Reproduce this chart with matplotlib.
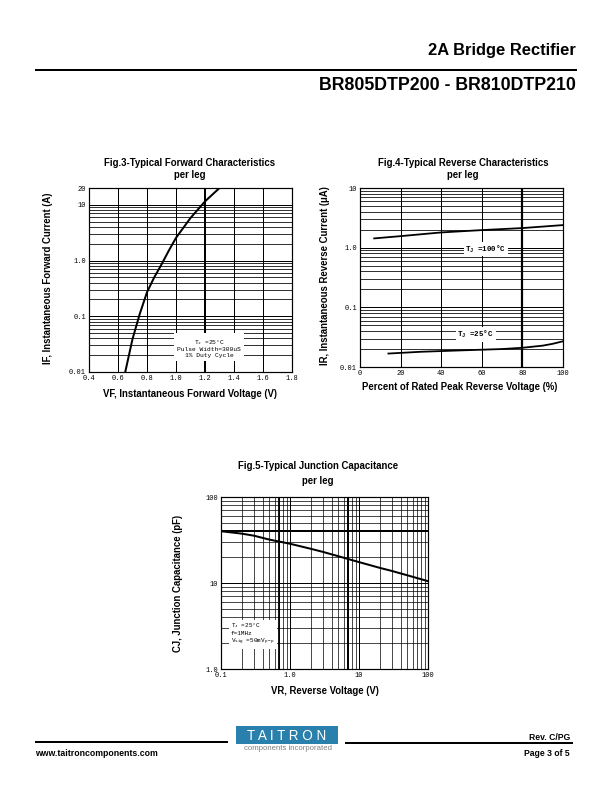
import matplotlib
matplotlib.use("Agg")
import matplotlib.pyplot as plt
from matplotlib.lines import Line2D
from matplotlib.patches import Rectangle
from matplotlib.ticker import FixedLocator, NullFormatter, LogLocator

# ---------------- data ----------------
fig3_vf = [0.65, 0.70, 0.75, 0.80, 0.85, 0.90, 0.95, 1.00, 1.10, 1.20, 1.30]
fig3_if = [0.01, 0.039, 0.11, 0.27, 0.50, 0.85, 1.5, 2.55, 5.8, 11.5, 20]
fig3_xticks = [0.4, 0.6, 0.8, 1.0, 1.2, 1.4, 1.6, 1.8]
fig3_xlabels = ["0.4", "0.6", "0.8", "1.0", "1.2", "1.4", "1.6", "1.8"]
fig3_yticks = [0.01, 0.1, 1, 10, 20]
fig3_ylabels = ["0.01", "0.1", "1.0", "10", "20"]

fig4_pct_hot = [7, 20, 40, 60, 80, 100]
fig4_ir_hot = [1.43, 1.56, 1.8, 1.97, 2.13, 2.39]
fig4_pct_cold = [14, 30, 50, 70, 80, 90, 95, 100]
fig4_ir_cold = [0.0168, 0.018, 0.019, 0.020, 0.021, 0.0228, 0.0245, 0.027]
fig4_xticks = [0, 20, 40, 60, 80, 100]
fig4_xlabels = ["0", "20", "40", "60", "80", "100"]
fig4_yticks = [0.01, 0.1, 1, 10]
fig4_ylabels = ["0.01", "0.1", "1.0", "10"]

fig5_vr = [0.1, 0.2, 0.3, 0.5, 1, 2, 3, 5, 10, 20, 30, 50, 100]
fig5_cj = [40, 37.5, 35.5, 32, 28.6, 25, 23, 20.5, 17.5, 15, 13.8, 12.3, 10.5]
fig5_xticks = [0.1, 1, 10, 100]
fig5_xlabels = ["0.1", "1.0", "10", "100"]
fig5_yticks = [1, 10, 100]
fig5_ylabels = ["1.0", "10", "100"]

W, H = 612, 792
fig = plt.figure(figsize=(W / 72, H / 72), dpi=72)
SANS = "Liberation Sans"
MONO = "Liberation Mono"
LBL = 9.6


def rect(x0, y0, x1, y1):
    return [x0 / W, 1 - y1 / H, (x1 - x0) / W, (y1 - y0) / H]


def ftext(x, y, s, **kw):
    fig.text(x / W, 1 - y / H, s, **kw)


def style_axes(ax):
    for sp in ax.spines.values():
        sp.set_linewidth(1.2)
        sp.set_color("black")
    ax.tick_params(which="both", length=0, pad=3, labelsize=7)
    for lab in ax.get_xticklabels() + ax.get_yticklabels():
        lab.set_family(MONO)


# ---------------- Fig 3 ----------------
ax3 = fig.add_axes(rect(89, 188, 292, 372))
ax3.set_yscale("log")
ax3.set_xlim(0.4, 1.8)
ax3.set_ylim(0.01, 20)
ax3.xaxis.set_major_locator(FixedLocator(fig3_xticks))
ax3.set_xticklabels(fig3_xlabels)
ax3.yaxis.set_major_locator(FixedLocator(fig3_yticks))
ax3.set_yticklabels(fig3_ylabels)
ax3.yaxis.set_minor_locator(LogLocator(base=10, subs=range(2, 10), numticks=20))
ax3.yaxis.set_minor_formatter(NullFormatter())
ax3.grid(True, which="major", color="black", lw=1.0)
ax3.grid(True, which="minor", axis="y", color="black", lw=0.8)
ax3.axvline(1.2, color="black", lw=2.0)
ax3.plot(fig3_vf, fig3_if, color="black", lw=2.0)
ax3.text(1.23, 0.027, "T$_\\mathregular{J}$ =25°C\nPulse Width=300uS\n1% Duty Cycle",
         ha="center", va="center", fontsize=6.3, family=MONO, linespacing=1.1,
         bbox=dict(facecolor="white", edgecolor="none", pad=3))
style_axes(ax3)
ftext(190, 163, "Fig.3-Typical Forward Characteristics", ha="center", va="center",
      fontsize=LBL, fontweight="bold", family=SANS)
ftext(190, 175, "per leg", ha="center", va="center", fontsize=LBL, fontweight="bold", family=SANS)
ftext(190, 394, "VF, Instantaneous Forward Voltage (V)", ha="center", va="center",
      fontsize=LBL, fontweight="bold", family=SANS)
ftext(48, 278, "IF, Instantaneous Forward Current (A)", ha="center", va="center",
      rotation=90, fontsize=LBL, fontweight="bold", family=SANS)

# ---------------- Fig 4 ----------------
ax4 = fig.add_axes(rect(360, 188, 563, 367))
ax4.set_yscale("log")
ax4.set_xlim(0, 100)
ax4.set_ylim(0.01, 10)
ax4.xaxis.set_major_locator(FixedLocator(fig4_xticks))
ax4.set_xticklabels(fig4_xlabels)
ax4.yaxis.set_major_locator(FixedLocator(fig4_yticks))
ax4.set_yticklabels(fig4_ylabels)
ax4.yaxis.set_minor_locator(LogLocator(base=10, subs=range(2, 10), numticks=20))
ax4.yaxis.set_minor_formatter(NullFormatter())
ax4.grid(True, which="major", color="black", lw=1.0)
ax4.grid(True, which="minor", axis="y", color="black", lw=0.8)
ax4.axvline(80, color="black", lw=2.2)
ax4.plot(fig4_pct_hot, fig4_ir_hot, color="black", lw=1.8)
ax4.plot(fig4_pct_cold, fig4_ir_cold, color="black", lw=1.8)
ax4.text(62, 0.95, "T$_\\mathregular{J}$ =100°C", ha="center", va="center", fontsize=7.5,
         family=MONO, fontweight="bold", bbox=dict(facecolor="white", edgecolor="none", pad=1.5))
ax4.text(57, 0.035, "T$_\\mathregular{J}$ =25°C", ha="center", va="center", fontsize=7.5,
         family=MONO, fontweight="bold", bbox=dict(facecolor="white", edgecolor="none", pad=1.5))
style_axes(ax4)
ftext(463, 163, "Fig.4-Typical Reverse Characteristics", ha="center", va="center",
      fontsize=LBL, fontweight="bold", family=SANS)
ftext(463, 175, "per leg", ha="center", va="center", fontsize=LBL, fontweight="bold", family=SANS)
ftext(460, 387, "Percent of Rated Peak Reverse Voltage (%)", ha="center", va="center",
      fontsize=LBL, fontweight="bold", family=SANS)
ftext(325, 276, "IR, Instantaneous Reverse Current (\u03bcA)", ha="center", va="center",
      rotation=90, fontsize=LBL, fontweight="bold", family=SANS)

# ---------------- Fig 5 ----------------
ax5 = fig.add_axes(rect(221, 497, 428, 669))
ax5.set_xscale("log")
ax5.set_yscale("log")
ax5.set_xlim(0.1, 100)
ax5.set_ylim(1, 100)
ax5.xaxis.set_major_locator(FixedLocator(fig5_xticks))
ax5.set_xticklabels(fig5_xlabels)
ax5.yaxis.set_major_locator(FixedLocator(fig5_yticks))
ax5.set_yticklabels(fig5_ylabels)
for axis in (ax5.xaxis, ax5.yaxis):
    axis.set_minor_locator(LogLocator(base=10, subs=range(2, 10), numticks=20))
    axis.set_minor_formatter(NullFormatter())
ax5.grid(True, which="major", color="black", lw=1.0)
ax5.grid(True, which="minor", color="black", lw=0.7)
ax5.axhline(40, color="black", lw=2.0)
ax5.axvline(0.7, color="black", lw=1.8)
ax5.axvline(7, color="black", lw=2.0)
ax5.plot(fig5_vr, fig5_cj, color="black", lw=2.0)
ax5.text(0.14, 2.55, "T$_\\mathregular{J}$ =25°C\nf=1MHz\nV$_\\mathregular{sig}$ =50mV$_\\mathregular{p-p}$",
         ha="left", va="center", fontsize=6.0, family=MONO, linespacing=1.2,
         bbox=dict(facecolor="white", edgecolor="none", pad=2))
style_axes(ax5)
ftext(318, 466, "Fig.5-Typical Junction Capacitance", ha="center", va="center",
      fontsize=LBL, fontweight="bold", family=SANS)
ftext(318, 481, "per leg", ha="center", va="center", fontsize=LBL, fontweight="bold", family=SANS)
ftext(325, 691, "VR, Reverse Voltage (V)", ha="center", va="center",
      fontsize=LBL, fontweight="bold", family=SANS)
ftext(178, 583, "CJ, Junction Capacitance (pF)", ha="center", va="center",
      rotation=90, fontsize=LBL, fontweight="bold", family=SANS)

# ---------------- header ----------------
ftext(576, 50, "2A Bridge Rectifier", ha="right", va="center", fontsize=16.5,
      fontweight="bold", family=SANS)
fig.add_artist(Line2D([36 / W, 576 / W], [1 - 69.5 / H] * 2, color="black", lw=2))
ftext(576, 86, "BR805DTP200 - BR810DTP210", ha="right", va="center", fontsize=17.7,
      fontweight="bold", family=SANS)

# ---------------- footer ----------------
fig.add_artist(Line2D([36 / W, 227 / W], [1 - 742 / H] * 2, color="black", lw=2))
fig.add_artist(Line2D([346 / W, 572 / W], [1 - 743 / H] * 2, color="black", lw=2))
fig.add_artist(Rectangle((236 / W, 1 - 744 / H), (338 - 236) / W, (744 - 726) / H,
                         transform=fig.transFigure, facecolor="#2a80ad", edgecolor="none"))
ftext(287, 735.5, "T A I T R O N", ha="center", va="center", fontsize=13.5, color="white", family=SANS)
ftext(288, 748.5, "components incorporated", ha="center", va="center", fontsize=7.8,
      color="#808080", family=SANS)
ftext(35, 753, "www.taitroncomponents.com", ha="left", va="center", fontsize=8.8,
      fontweight="bold", family=SANS)
ftext(570, 737, "Rev. C/PG", ha="right", va="center", fontsize=8.6, fontweight="bold", family=SANS)
ftext(570, 754, "Page 3 of 5", ha="right", va="center", fontsize=8.6, fontweight="bold", family=SANS)

fig.savefig("out.png", dpi=72)
